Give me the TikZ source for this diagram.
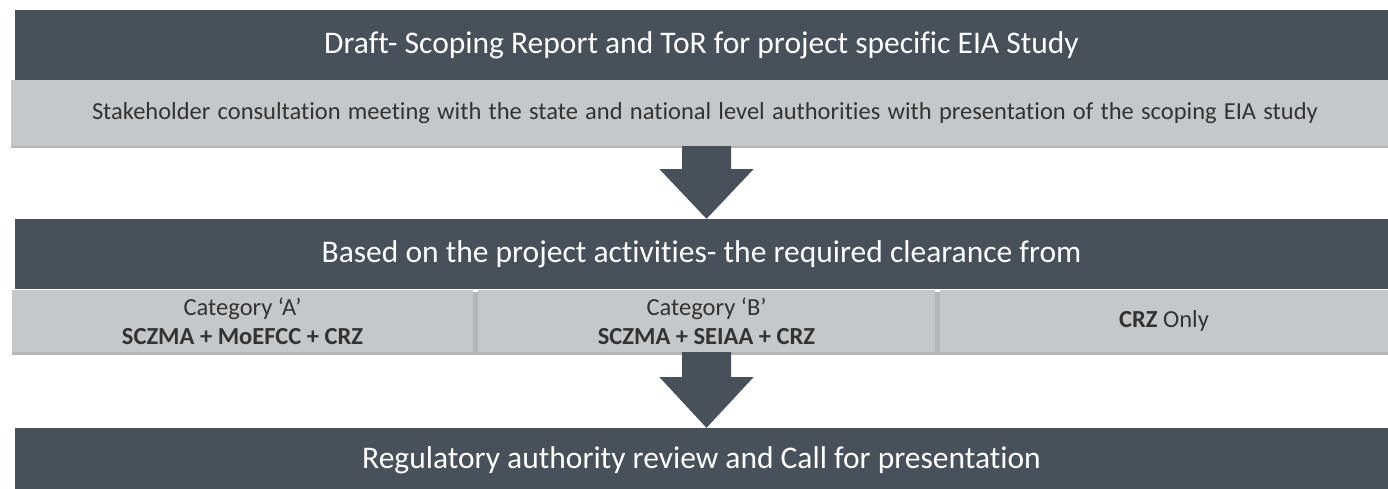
\documentclass[tikz,border=0pt]{standalone}
\usepackage{fontspec}
\setmainfont{Carlito}[Ligatures=NoCommon]
\usetikzlibrary{calc}
\definecolor{darkbar}{HTML}{48505A}
\definecolor{lightbar}{HTML}{C6C7C9}
\definecolor{shadowc}{HTML}{B4B5B7}
\definecolor{graytext}{HTML}{333333}
\begin{document}
\begin{tikzpicture}[x=1pt,y=-1pt,
  darkbox/.style={fill=darkbar, draw=none, inner sep=0pt, text=white, font=\fontsize{31.5}{36}\selectfont, minimum height=70pt},
  lightbox/.style={fill=lightbar, draw=none, inner sep=0pt, text=graytext, align=center},
  cellfont/.style={font=\fontsize{24.5}{29}\selectfont},
  blockarrow/.style={fill=darkbar, draw=none}]
\useasboundingbox (0,0) rectangle (1388,488);
\clip (0,0) rectangle (1388,488);

% top
\node[darkbox, minimum width=1373pt] (t1) at (701.5,45) {Draft- Scoping Report and ToR for project specific EIA Study};
\fill[shadowc] (11,82) rectangle (1388,148);
\node[lightbox, minimum width=1377pt, minimum height=66pt, font=\fontsize{24.5}{28}\selectfont] (l1) at (699.5,113)
  {\hspace*{11pt}\makebox[1226pt][s]{Stakeholder consultation meeting with the state and national level authorities with presentation of the scoping EIA study}};

% middle
\node[darkbox, minimum width=1373pt] (t2) at (701.5,254) {Based on the project activities- the required clearance from};
\fill[shadowc] (12,292) rectangle (1388,355);
\node[lightbox, minimum width=461pt, minimum height=62pt, cellfont] (c1) at (242.5,321)
  {Category `A'\\\textbf{SCZMA + MoEFCC + CRZ}};
\node[lightbox, minimum width=457pt, minimum height=62pt, cellfont] (c2) at (706.5,321)
  {Category `B'\\\textbf{SCZMA + SEIAA + CRZ}};
\node[lightbox, minimum width=448pt, minimum height=62pt, cellfont] (c3) at (1164,321)
  {\textbf{CRZ} Only};

% bottom
\node[darkbox, minimum width=1373pt, minimum height=64pt] (t3) at (701.5,460) {Regulatory authority review and Call for presentation};

% arrows
\coordinate (ax1) at (706.5,0);
\fill[blockarrow] let \p1=(l1.south), \p2=(t2.north), \p3=(ax1) in
  (\x3-24.5,\y1) -- (\x3+24.5,\y1) -- (\x3+24.5,\y1-23) -- (\x3+47,\y1-23) -- (\x3,\y2)
  -- (\x3-47,\y1-23) -- (\x3-24.5,\y1-23) -- cycle;
\fill[blockarrow] let \p1=(c2.south), \p2=(t3.north), \p3=(ax1) in
  (\x3-24.5,\y1) -- (\x3+24.5,\y1) -- (\x3+24.5,\y1-25) -- (\x3+47,\y1-25) -- (\x3,\y2)
  -- (\x3-47,\y1-25) -- (\x3-24.5,\y1-25) -- cycle;
\end{tikzpicture}
\end{document}
